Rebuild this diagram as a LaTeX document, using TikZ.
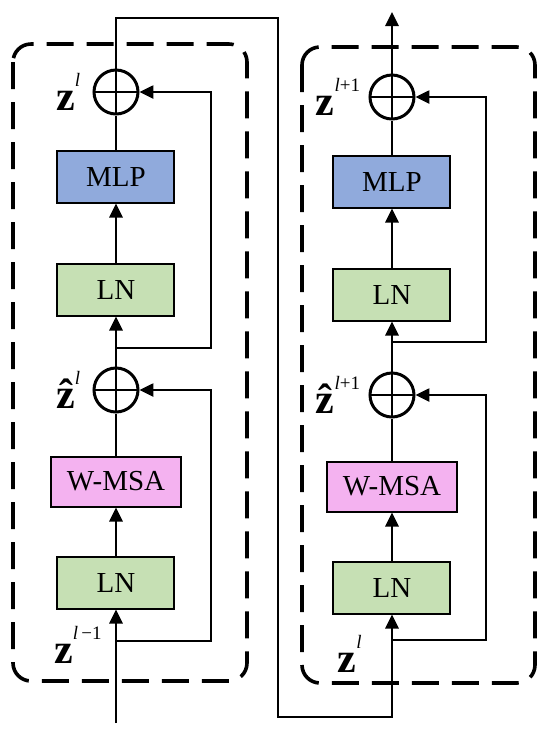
\documentclass[tikz,border=0pt]{standalone}
\usepackage{fontspec}
\setmainfont{Liberation Serif}
\usetikzlibrary{arrows.meta,positioning,calc}
\definecolor{swinBlue}{RGB}{144,170,220}
\definecolor{swinGreen}{RGB}{198,224,180}
\definecolor{swinPink}{RGB}{244,178,240}
% bold z with a raised superscript
\newcommand{\zlab}[2]{{\fontsize{21}{21}\selectfont\bfseries #1}\raisebox{12pt}{\fontsize{9.5}{9.5}\selectfont #2}}

\begin{document}
\begin{tikzpicture}[x=0.5pt, y=0.5pt,
      lnbox/.style={rectangle, draw=black, line width=1pt, fill=swinGreen,
        minimum width=58.5pt, minimum height=26pt, inner sep=2pt,
        font=\fontsize{14.5}{16}\selectfont},
      mlpbox/.style={lnbox, fill=swinBlue},
      msabox/.style={lnbox, fill=swinPink, minimum width=65pt, minimum height=25pt},
      addnode/.style={circle, draw=black, line width=1.5pt, minimum size=22pt,
        inner sep=0pt,
        path picture={\draw[line width=1.4pt]
          (path picture bounding box.west) -- (path picture bounding box.east)
          (path picture bounding box.north) -- (path picture bounding box.south);}},
      zlbl/.style={inner sep=0pt},
      blockframe/.style={draw=black, line width=1.8pt, dash pattern=on 13.5pt off 6.5pt,
        rounded corners=9pt},
      arr/.style={-{Triangle[length=7pt, width=6.5pt]}, line width=1.3pt},
      ln/.style={line width=1.3pt},
    ]
    \useasboundingbox (0,0) rectangle (550,-736);

    % ---- dashed block frames ----
    \draw[blockframe] (13,-44) rectangle (247,-681);
    \draw[blockframe] (302,-47) rectangle (535,-683);

    % ---- Left block: W-MSA ----
    \node[addnode] (addTopL) at (116,-92) {};
    \node[mlpbox, below=17pt of addTopL] (mlpL) {MLP};
    \node[lnbox, below=29.5pt of mlpL] (lnUpL) {LN};
    \node[addnode, below=25pt of lnUpL] (addMidL) {};
    \node[msabox, below=21pt of addMidL] (msaL) {W-MSA};
    \node[lnbox, below=24pt of msaL] (lnLowL) {LN};

    \node[zlbl, left=6pt of addTopL] (zTopL) {\zlab{z}{\textit{l}}};
    \node[zlbl, left=6pt of addMidL] (zMidL) {\zlab{\^{z}}{\textit{l}}};
    \node[zlbl, below left=8pt and 7pt of lnLowL.south] (zInL) {\zlab{z}{\textit{l}\,−1}};

    \coordinate (inL) at (116,-723);
    \coordinate (brUpL) at (116,-348);
    \coordinate (brLowL) at (116,-641);

    \draw[arr] (inL) -- (lnLowL);
    \draw[arr] (lnLowL) -- (msaL);
    \draw[ln] (msaL) -- (addMidL);
    \draw[arr] (addMidL) -- (lnUpL);
    \draw[arr] (lnUpL) -- (mlpL);
    \draw[ln] (mlpL) -- (addTopL);
    \draw[arr] (brLowL) -- ++(95,0) |- (addMidL.east);
    \draw[arr] (brUpL) -- ++(95,0) |- (addTopL.east);

    % ---- Right block: SW-MSA ----
    \node[addnode] (addTopR) at (392,-97) {};
    \node[mlpbox, below=17pt of addTopR] (mlpR) {MLP};
    \node[lnbox, below=29.5pt of mlpR] (lnUpR) {LN};
    \node[addnode, below=25pt of lnUpR] (addMidR) {};
    \node[msabox, below=21pt of addMidR] (msaR) {W-MSA};
    \node[lnbox, below=24pt of msaR] (lnLowR) {LN};

    \node[zlbl, left=4pt of addTopR] (zTopR) {\zlab{z}{\textit{l}+1}};
    \node[zlbl, left=4pt of addMidR] (zMidR) {\zlab{\^{z}}{\textit{l}+1}};
    \node[zlbl, below left=10pt and 15pt of lnLowR.south] (zInR) {\zlab{z}{\textit{l}}};

    \coordinate (outR) at (392,-12);
    \coordinate (brUpR) at (392,-342);
    \coordinate (brLowR) at (392,-640);

    \draw[arr] (lnLowR) -- (msaR);
    \draw[ln] (msaR) -- (addMidR);
    \draw[arr] (addMidR) -- (lnUpR);
    \draw[arr] (lnUpR) -- (mlpR);
    \draw[ln] (mlpR) -- (addTopR);
    \draw[arr] (addTopR) -- (outR);
    \draw[arr] (brLowR) -- ++(94,0) |- (addMidR.east);
    \draw[arr] (brUpR) -- ++(94,0) |- (addTopR.east);

    % ---- link from left block to right block ----
    \coordinate (topTurn) at (278,-18);
    \coordinate (botTurn) at (278,-717);
    \draw[arr] (addTopL.north) |- (topTurn) -- (botTurn) -| (lnLowR.south);
  \end{tikzpicture}
\end{document}
